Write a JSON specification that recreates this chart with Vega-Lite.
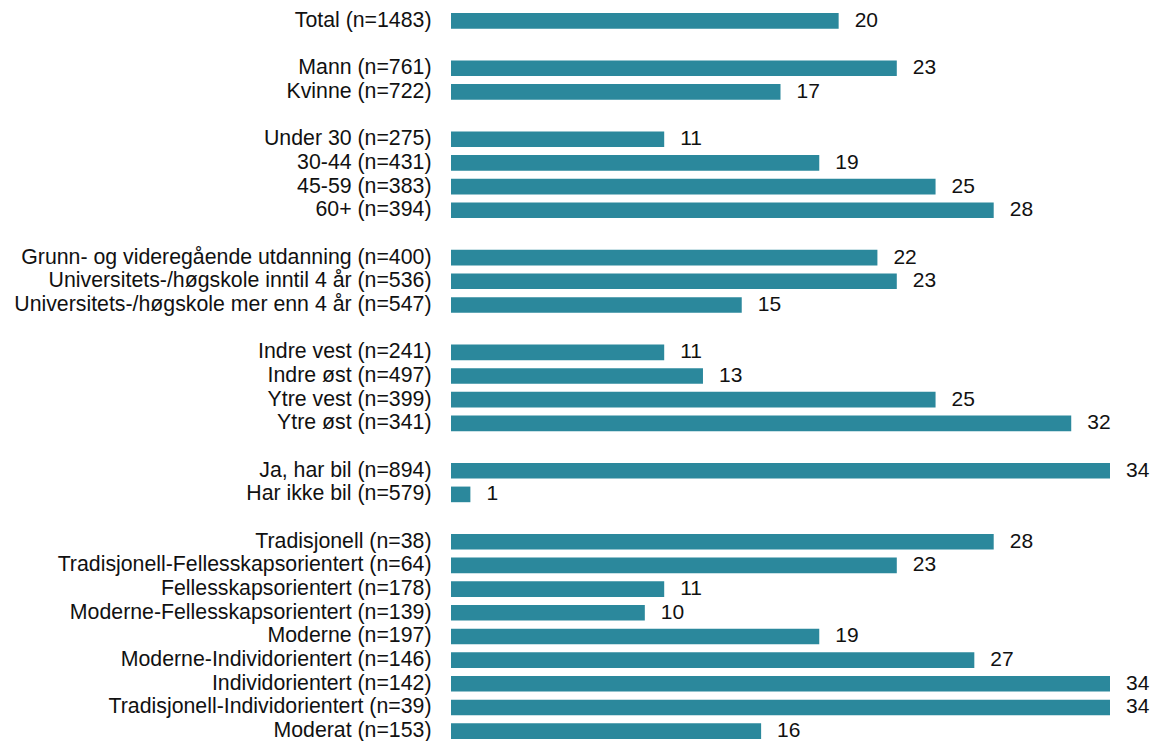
{
  "$schema": "https://vega.github.io/schema/vega-lite/v6.json",
  "autosize": {"type": "none"},
  "padding": {"left": 451, "top": 9, "right": 43, "bottom": 0},
  "width": 659,
  "height": 734,
  "background": "white",
  "config": {"view": {"stroke": null}, "font": "Liberation Sans"},
  "data": {"values": [
    {"label": "Total (n=1483)", "value": 20},
    {"label": "Mann (n=761)", "value": 23},
    {"label": "Kvinne (n=722)", "value": 17},
    {"label": "Under 30 (n=275)", "value": 11},
    {"label": "30-44 (n=431)", "value": 19},
    {"label": "45-59 (n=383)", "value": 25},
    {"label": "60+ (n=394)", "value": 28},
    {"label": "Grunn- og videregående utdanning (n=400)", "value": 22},
    {"label": "Universitets-/høgskole inntil 4 år (n=536)", "value": 23},
    {"label": "Universitets-/høgskole mer enn 4 år (n=547)", "value": 15},
    {"label": "Indre vest (n=241)", "value": 11},
    {"label": "Indre øst (n=497)", "value": 13},
    {"label": "Ytre vest (n=399)", "value": 25},
    {"label": "Ytre øst (n=341)", "value": 32},
    {"label": "Ja, har bil (n=894)", "value": 34},
    {"label": "Har ikke bil (n=579)", "value": 1},
    {"label": "Tradisjonell (n=38)", "value": 28},
    {"label": "Tradisjonell-Fellesskapsorientert (n=64)", "value": 23},
    {"label": "Fellesskapsorientert (n=178)", "value": 11},
    {"label": "Moderne-Fellesskapsorientert (n=139)", "value": 10},
    {"label": "Moderne (n=197)", "value": 19},
    {"label": "Moderne-Individorientert (n=146)", "value": 27},
    {"label": "Individorientert (n=142)", "value": 34},
    {"label": "Tradisjonell-Individorientert (n=39)", "value": 34},
    {"label": "Moderat (n=153)", "value": 16}
  ]},
  "encoding": {
    "y": {
      "field": "label", "type": "nominal",
      "scale": {
        "domain": [
          "Total (n=1483)", "gap1",
          "Mann (n=761)", "Kvinne (n=722)", "gap2",
          "Under 30 (n=275)", "30-44 (n=431)", "45-59 (n=383)", "60+ (n=394)", "gap3",
          "Grunn- og videregående utdanning (n=400)", "Universitets-/høgskole inntil 4 år (n=536)", "Universitets-/høgskole mer enn 4 år (n=547)", "gap4",
          "Indre vest (n=241)", "Indre øst (n=497)", "Ytre vest (n=399)", "Ytre øst (n=341)", "gap5",
          "Ja, har bil (n=894)", "Har ikke bil (n=579)", "gap6",
          "Tradisjonell (n=38)", "Tradisjonell-Fellesskapsorientert (n=64)", "Fellesskapsorientert (n=178)", "Moderne-Fellesskapsorientert (n=139)", "Moderne (n=197)", "Moderne-Individorientert (n=146)", "Individorientert (n=142)", "Tradisjonell-Individorientert (n=39)", "Moderat (n=153)"
        ],
        "paddingInner": 0.34, "paddingOuter": 0.17
      },
      "axis": {"title": null, "domain": false, "ticks": false, "labelPadding": 20, "labelFontSize": 21.3, "labelColor": "#111111", "labelFont": "Liberation Sans", "labelLimit": 1000,
        "labelExpr": "indexof(datum.value, 'gap') == 0 ? '' : datum.value"}
    },
    "x": {
      "field": "value", "type": "quantitative",
      "scale": {"domain": [0, 34], "nice": false, "zero": true},
      "axis": null
    }
  },
  "layer": [
    {"mark": {"type": "bar", "color": "#2B889C"}},
    {"mark": {"type": "text", "align": "left", "baseline": "middle", "dx": 16, "fontSize": 21, "color": "#111111", "font": "Liberation Sans"},
     "encoding": {"text": {"field": "value", "type": "quantitative"}}}
  ]
}
